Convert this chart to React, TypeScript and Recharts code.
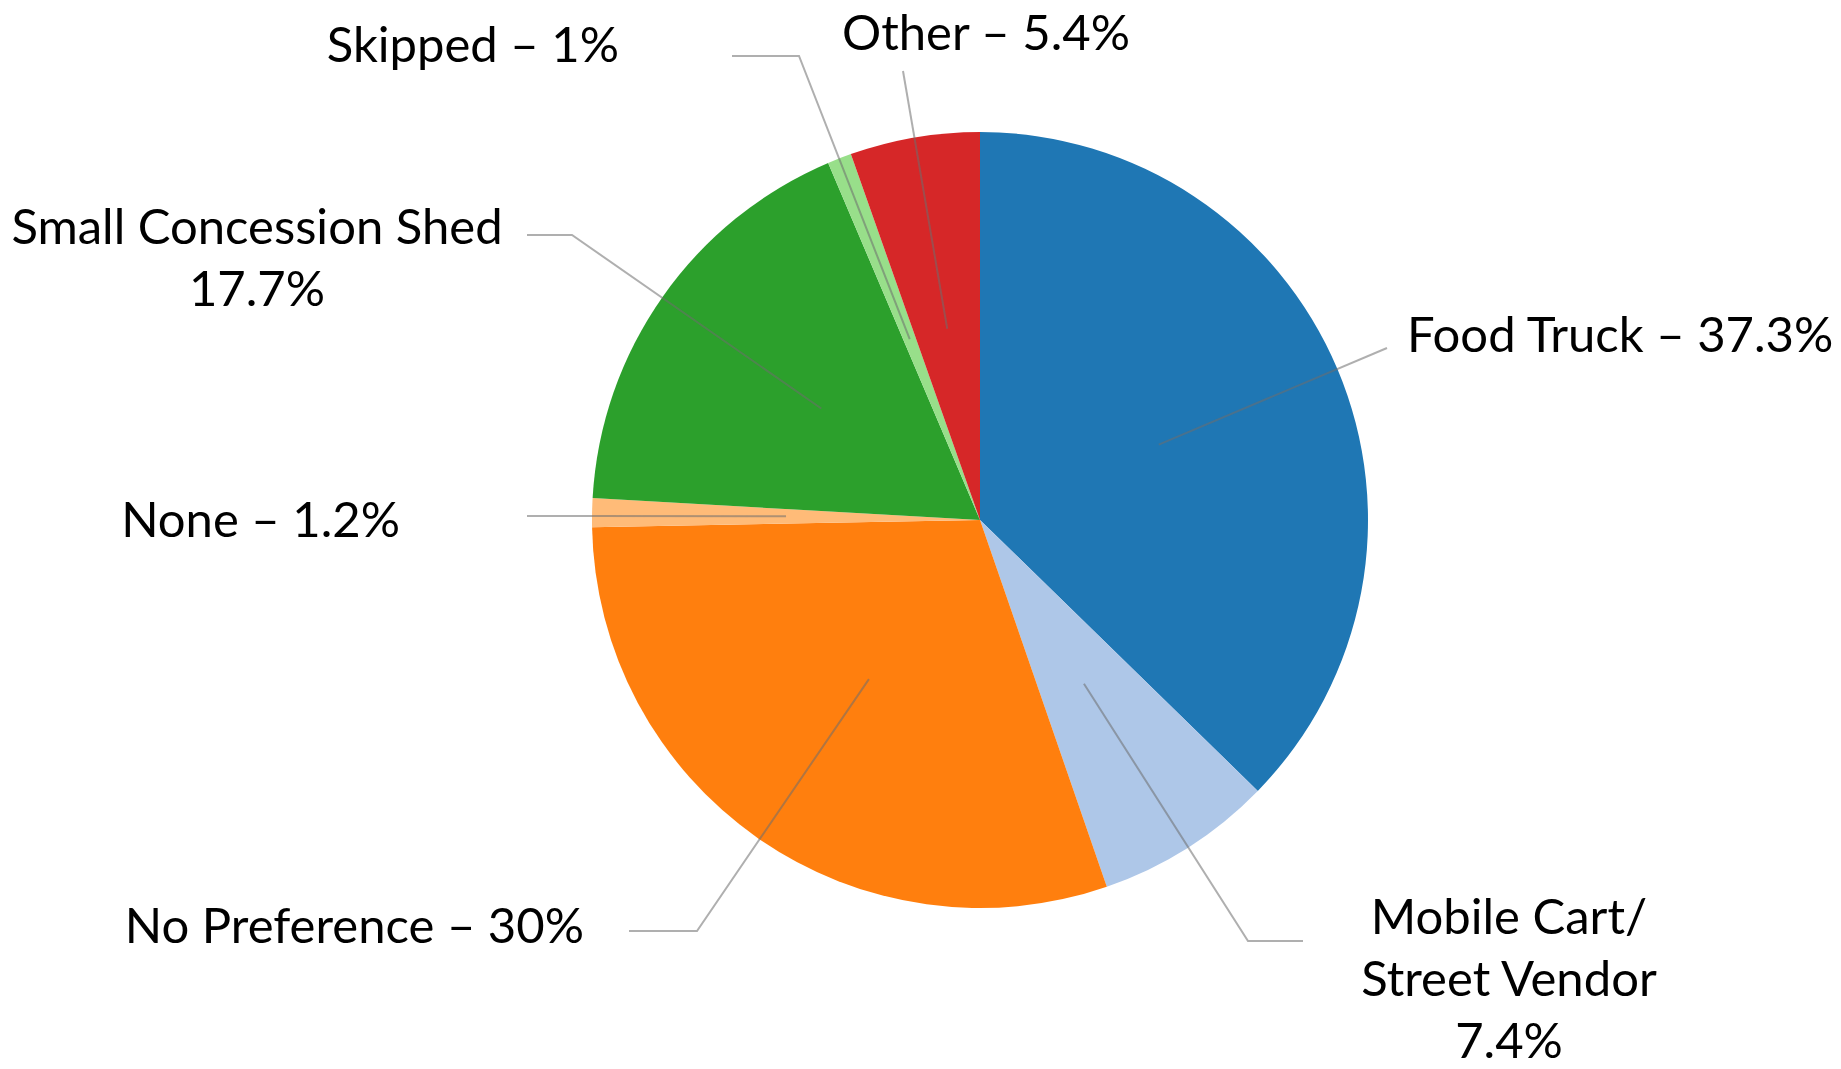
import React from "react";
import { PieChart, Pie, Cell } from "recharts";

const categories = [
  "Food Truck",
  "Mobile Cart/\nStreet Vendor",
  "No Preference",
  "None",
  "Small Concession Shed",
  "Skipped",
  "Other",
];
const shares = [37.3, 7.4, 30, 1.2, 17.7, 1, 5.4];
const sliceColors = ["#1f77b4", "#aec7e8", "#ff7f0e", "#ffbb78", "#2ca02c", "#98df8a", "#d62728"];

// label layout: text anchor point, alignment, stacked (multi-line) and leader elbow/end points
const labelLayout = [
  { x: 1407, y: 352, anchor: "start", stacked: false, elbow: [1387, 348], end: [1387, 348] },
  { x: 1509, y: 934, anchor: "middle", stacked: true, elbow: [1248, 941], end: [1303, 941] },
  { x: 584, y: 943, anchor: "end", stacked: false, elbow: [697, 931], end: [629, 931] },
  { x: 400, y: 537, anchor: "end", stacked: false, elbow: [592, 516], end: [527, 516] },
  { x: 257, y: 244, anchor: "middle", stacked: true, elbow: [572, 235], end: [527, 235] },
  { x: 619, y: 62, anchor: "end", stacked: false, elbow: [799, 56], end: [732, 56] },
  { x: 986, y: 50, anchor: "middle", stacked: false, elbow: [903, 71], end: [903, 71] },
];

const data = categories.map((name, i) => ({ name, value: shares[i] }));

const FONT = "Lato, 'Open Sans', sans-serif";
const FONT_SIZE = 49;
const LINE_H = 62;
const RAD = Math.PI / 180;

const renderLabel = (props: any) => {
  const { cx, cy, midAngle, outerRadius, index, name, value } = props;
  const lay = labelLayout[index];
  const sx = cx + 0.5 * outerRadius * Math.cos(-midAngle * RAD);
  const sy = cy + 0.5 * outerRadius * Math.sin(-midAngle * RAD);
  const parts = String(name).split("\n");
  const lines = lay.stacked ? [...parts, `${value}%`] : [`${parts.join(" ")} – ${value}%`];
  return (
    <g key={`lbl-${index}`}>
      <path
        d={`M${sx},${sy}L${lay.elbow[0]},${lay.elbow[1]}L${lay.end[0]},${lay.end[1]}`}
        fill="none"
        stroke="rgba(110,110,110,0.55)"
        strokeWidth={2}
      />
      <text
        x={lay.x}
        y={lay.y}
        textAnchor={lay.anchor}
        fill="#000"
        fontFamily={FONT}
        fontSize={FONT_SIZE}
      >
        {lines.map((ln, k) => (
          <tspan key={k} x={lay.x} dy={k === 0 ? 0 : LINE_H}>
            {ln}
          </tspan>
        ))}
      </text>
    </g>
  );
};

export default function App() {
  return (
    <div style={{ position: "absolute", left: 0, top: 0, width: 1841, height: 1069, background: "#fff" }}>
      <PieChart width={1841} height={1069} margin={{ top: 0, right: 0, bottom: 0, left: 0 }}>
        <Pie
          data={data}
          dataKey="value"
          nameKey="name"
          cx={980}
          cy={520}
          outerRadius={388}
          startAngle={90}
          endAngle={-270}
          stroke="none"
          label={renderLabel}
          labelLine={false}
          isAnimationActive={false}
        >
          {data.map((d, i) => (
            <Cell key={d.name} fill={sliceColors[i]} />
          ))}
        </Pie>
      </PieChart>
    </div>
  );
}
